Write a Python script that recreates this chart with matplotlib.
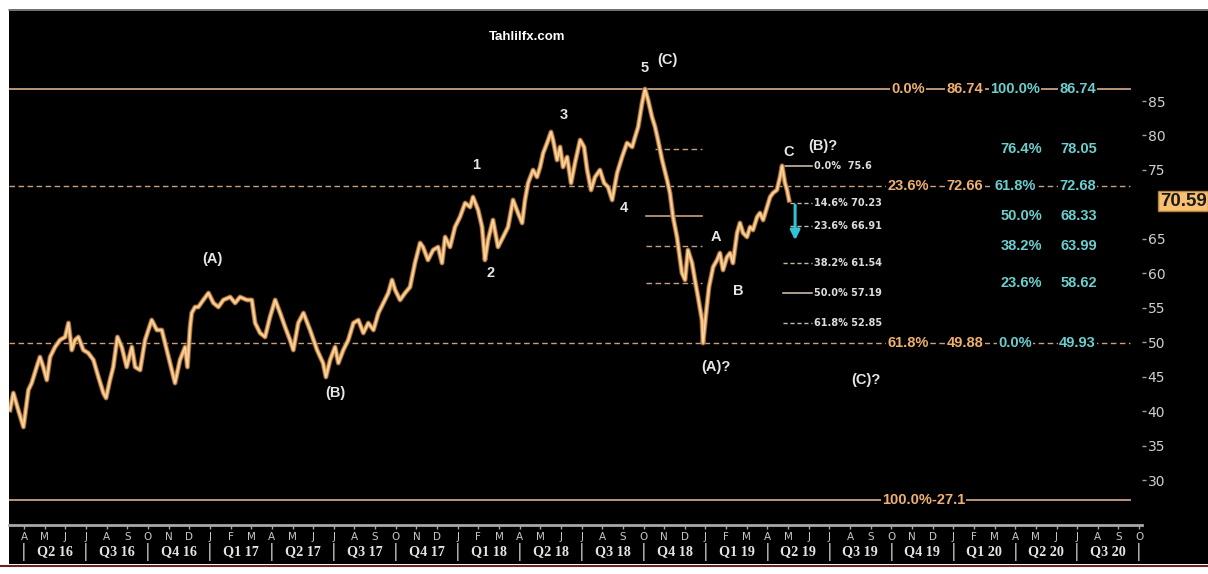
import matplotlib
matplotlib.use("Agg")
import matplotlib.pyplot as plt
from matplotlib.lines import Line2D
from matplotlib.patches import Rectangle
import matplotlib.transforms as mtransforms

# ---------------- data ----------------
# time in months since Jan 2016 (0 = 1 Jan 2016), price values
month_pos = [2.32, 2.48, 2.72, 2.97, 3.21, 3.37, 3.61, 3.77, 3.93, 4.10, 4.26, 4.50, 4.74, 4.99, 5.15,
             5.31, 5.47, 5.63, 5.87, 6.11, 6.36, 6.60, 6.84, 6.97, 7.16, 7.32, 7.52, 7.73, 7.97, 8.22,
             8.38, 8.62, 8.86, 9.18, 9.43, 9.67, 9.91, 10.15, 10.31, 10.55, 10.80, 10.91, 11.04, 11.12,
             11.28, 11.44, 11.68, 11.93, 12.17, 12.41, 12.65, 12.98, 13.22, 13.46, 13.79, 14.03, 14.19,
             14.43, 14.67, 14.91, 15.16, 15.40, 15.64, 15.88, 16.04, 16.28, 16.53, 16.85, 17.19, 17.48,
             17.62, 17.82, 18.06, 18.22, 18.46, 18.70, 18.95, 19.19, 19.43, 19.67, 19.92, 20.16, 20.40,
             20.64, 20.82, 20.97, 21.21, 21.45, 21.69, 21.93, 22.18, 22.32, 22.56, 22.81, 23.05, 23.24,
             23.39, 23.63, 23.87, 24.11, 24.36, 24.60, 24.74, 24.99, 25.18, 25.32, 25.47, 25.71, 25.95,
             26.20, 26.44, 26.68, 26.92, 27.12, 27.26, 27.41, 27.65, 27.84, 27.99, 28.14, 28.33, 28.52,
             28.62, 28.81, 28.96, 29.10, 29.30, 29.49, 29.68, 29.93, 30.12, 30.27, 30.46, 30.65, 30.89,
             31.09, 31.28, 31.48, 31.72, 31.96, 32.20, 32.45, 32.59, 32.74, 32.93, 33.07, 33.22, 33.41,
             33.56, 33.70, 33.90, 34.14, 34.28, 34.43, 34.62, 34.77, 34.86, 35.01, 35.15, 35.35, 35.49,
             35.64, 35.83, 35.88, 36.03, 36.17, 36.37, 36.56, 36.70, 36.85, 37.04, 37.19, 37.33, 37.53,
             37.67, 37.82, 38.01, 38.16, 38.30, 38.50, 38.64, 38.79, 38.98, 39.13, 39.27, 39.46, 39.61,
             39.71, 39.85, 39.95, 40.05]
price = [40.16, 42.63, 40.16, 37.70, 43.07, 44.08, 46.40, 47.85, 46.40, 44.52, 47.85, 49.31, 50.32, 50.76, 52.79,
         48.87, 50.32, 50.76, 48.87, 48.43, 47.42, 44.95, 42.63, 41.91, 44.52, 46.40, 50.76, 49.31, 46.40, 49.31,
         46.40, 45.97, 50.32, 53.22, 51.77, 51.77, 48.87, 45.97, 44.08, 47.42, 49.31, 46.40, 52.21, 54.24,
         55.11, 55.11, 56.13, 57.14, 55.69, 55.11, 56.13, 56.56, 55.69, 56.56, 56.13, 56.13, 52.79,
         51.34, 50.76, 53.66, 56.13, 54.24, 52.21, 50.32, 48.87, 52.79, 54.24, 51.77, 48.87, 46.98,
         44.95, 47.42, 49.31, 46.98, 48.87, 50.32, 52.79, 53.22, 51.34, 52.79, 51.77, 54.24, 55.69,
         57.14, 59.03, 57.58, 56.13, 57.14, 58.01, 61.49, 64.40, 63.82, 61.93, 63.38, 63.82, 61.49,
         65.27, 63.82, 66.72, 68.17, 70.20, 69.62, 71.07, 69.18, 66.72, 61.93, 64.83, 67.73, 63.82,
         65.27, 66.72, 70.64, 68.75, 67.30, 70.64, 73.10, 74.99, 73.97, 75.42, 77.45, 78.91, 80.50,
         79.34, 76.44, 78.33, 75.42, 76.87, 73.10, 76.00, 79.34, 78.33, 74.99, 72.09, 73.97, 74.99,
         73.10, 72.52, 70.64, 74.55, 76.87, 78.91, 78.33, 79.78, 81.23, 84.71, 86.74, 85.15, 82.68,
         81.23, 79.34, 76.44, 73.54, 71.65, 68.17, 65.27, 61.93, 60.04, 59.03, 63.38, 61.49, 59.03,
         56.56, 53.22, 49.88, 54.24, 58.01, 60.91, 61.93, 62.94, 60.48, 62.36, 62.94, 61.49, 65.85,
         67.30, 65.85, 65.27, 66.72, 66.28, 68.17, 68.75, 67.73, 69.62, 71.07, 71.65, 72.09, 73.97,
         75.60, 73.10, 72.09, 70.59]
last_price = "70.59"

# main fibonacci lines (level, style, orange pct, orange val, cyan pct, cyan val)
main_levels = [86.74, 72.66, 49.88, 27.1]
main_styles = ["-", "--", "--", "-"]
orange_pct = ["0.0%", "23.6%", "61.8%", "100.0%-27.1"]
orange_val = ["86.74", "72.66", "49.88", ""]
cyan_pct = ["100.0%", "61.8%", "0.0%", ""]
cyan_val = ["86.74", "72.68", "49.93", ""]

# cyan retracement levels of the (A) decline
retr_pct = ["76.4%", "50.0%", "38.2%", "23.6%"]
retr_val = [78.05, 68.33, 63.99, 58.62]
retr_style = ["--", "-", "--", "--"]

# small retracement ladder from the C top
ladder_pct = ["0.0%", "14.6%", "23.6%", "38.2%", "50.0%", "61.8%"]
ladder_val = [75.6, 70.23, 66.91, 61.54, 57.19, 52.85]
ladder_style = ["-", "--", "--", "--", "-", "--"]

# wave labels (text, month, price)
wave_text = ["5", "(C)", "3", "1", "2", "4", "(A)", "(B)", "A", "B", "C", "(B)?", "(A)?", "(C)?"]
wave_m = [33.07, 34.14, 29.15, 24.89, 25.57, 32.06, 12.10, 18.06, 36.51, 37.58, 40.05, 41.70, 36.51, 43.78]
wave_v = [89.8, 90.95, 82.97, 75.71, 60.04, 69.47, 62.07, 42.63, 65.27, 57.43, 77.6, 78.47, 46.4, 44.52]

month_letters = list("JFMAMJJASOND")
y_ticks = [30, 35, 40, 45, 50, 55, 60, 65, 75, 80, 85]

# ---------------- figure ----------------
W, H = 1208, 574
fig = plt.figure(figsize=(W / 100, H / 100), dpi=100, facecolor="white")
fig.patches.append(Rectangle((9 / W, 1 - 564 / H), 1 - 9 / W, 555 / H, transform=fig.transFigure,
                             facecolor="black", edgecolor="none", zorder=-10))
fig.lines.append(Line2D([9 / W, 1], [1 - 9.5 / H] * 2, transform=fig.transFigure, color="#8a8a8a", lw=1.2))
fig.lines.append(Line2D([0, 1], [1 - 566 / H] * 2, transform=fig.transFigure, color="#6a2424", lw=1.5))

ax = fig.add_axes([9 / W, 49 / H, 1133 / W, 516 / H])
ax.patch.set_visible(False)
ax.set_xlim(2.27, 57.14)
ax.set_ylim(23.48, 98.35)
for s in ["top", "left", "right"]:
    ax.spines[s].set_visible(False)
ax.spines["bottom"].set_color("#a8a8a8")
ax.spines["bottom"].set_linewidth(2)

# x ticks: months
mticks = list(range(3, 58))
ax.set_xticks(mticks)
ax.set_xticklabels([month_letters[m % 12] for m in mticks], family="DejaVu Sans")
ax.tick_params(axis="x", colors="#a8a8a8", length=3, width=1, labelsize=7.5, labelcolor="#c8c8c8", pad=2)

# quarter labels
tq = mtransforms.blended_transform_factory(ax.transData, ax.transAxes)
for qs in range(3, 57, 3):
    year = 16 + qs // 12
    q = (qs % 12) // 3 + 1
    ax.text(qs + 1.5, -0.052, f"Q{q} {year}", transform=tq, ha="center", va="center",
            color="#e4e4e4", fontsize=10.2, fontweight="bold", family="Liberation Serif")
for qs in range(3, 58, 3):
    ax.text(qs, -0.052, "|", transform=tq, ha="center", va="center", color="#c0c0c0", fontsize=12)

# y ticks right
ax.yaxis.tick_right()
ax.set_yticks(y_ticks)
ax.set_yticklabels([str(v) for v in y_ticks])
ax.tick_params(axis="y", colors="#a0a0a0", length=3, width=1, labelsize=10, labelcolor="#cfcfcf", pad=1)

# price
ax.plot(month_pos, price, color="#8a5a30", lw=3.6, zorder=3)
ax.plot(month_pos, price, color="#eab070", lw=2.3, zorder=4)
ax.plot(month_pos, price, color="#ffe2b0", lw=0.7, zorder=5)

# main fibonacci lines
orange = "#f0b070"
cyan = "#6ccfcf"
line_col = "#c9a080"
fib_font = dict(fontsize=10.5, fontweight="bold", family="Liberation Sans", ha="center", va="center", zorder=6)
bb = dict(facecolor="black", edgecolor="none", pad=0.8)
for lvl, st, op, ov, cp, cv in zip(main_levels, main_styles, orange_pct, orange_val, cyan_pct, cyan_val):
    ax.plot([2.27, 56.56], [lvl, lvl], color=line_col, lw=1.3 if st == "-" else 1.0,
            ls=st, dashes=(4, 2.5) if st == "--" else (None, None), zorder=2)
    if ov:
        ax.text(45.80, lvl, op, color=orange, bbox=bb, **fib_font)
        ax.text(48.57, lvl, ov, color=orange, bbox=bb, **fib_font)
        ax.text(50.99, lvl, cp, color=cyan, bbox=bb, **fib_font)
        ax.text(54.02, lvl, cv, color=cyan, bbox=bb, **fib_font)
    else:
        ax.text(46.55, lvl, op, color=orange, bbox=bb, **fib_font)

# cyan retracement text and short lines
for p, v, st in zip(retr_pct, retr_val, retr_style):
    ax.text(51.28, v, p, color=cyan, **fib_font)
    ax.text(54.08, v, f"{v:.2f}", color=cyan, **fib_font)
    x0 = 33.55 if v > 75 else 33.1
    ax.plot([x0, 35.85], [v, v], color=line_col, lw=1.2 if st == "-" else 1.0, ls=st,
            dashes=(4, 2.5) if st == "--" else (None, None), zorder=2)

# small ladder
for p, v, st in zip(ladder_pct, ladder_val, ladder_style):
    x0 = 40.10 if 64 < v < 71 else 39.76
    ax.plot([x0, 41.16], [v, v], color="#c8b8a8", lw=1.2 if st == "-" else 1.0, ls=st,
            dashes=(3, 2) if st == "--" else (None, None), zorder=2)
    ax.text(41.25, v, f"{p} {v:g}" if v != 75.6 else f"{p}  {v:g}", color="#dcdcdc", fontsize=7,
            fontweight="bold", ha="left", va="center", zorder=6)

# arrow
ax.annotate("", xy=(40.34, 64.4), xytext=(40.34, 70.3),
            arrowprops=dict(arrowstyle="-|>", color="#2ec4d6", lw=2.2, mutation_scale=14), zorder=7)

# wave labels
for t, m, v in zip(wave_text, wave_m, wave_v):
    ax.text(m, v, t, color="#e6e6e6", fontsize=10.5, fontweight="bold", ha="center", va="center",
            family="Liberation Sans", zorder=6)

ax.text(27.36, 94.29, "Tahlilfx.com", color="white", fontsize=9.5, fontweight="bold", ha="center",
        va="center", family="Liberation Sans")

# last price box
fig.text(1160 / W, 1 - 201 / H, last_price, color="#1a1a1a", fontsize=13.5, fontweight="bold",
         ha="left", va="center", family="Liberation Sans",
         bbox=dict(facecolor="#f8c070", edgecolor="#b08040", pad=1.2))

fig.savefig("out.png", dpi=100, facecolor="white")
